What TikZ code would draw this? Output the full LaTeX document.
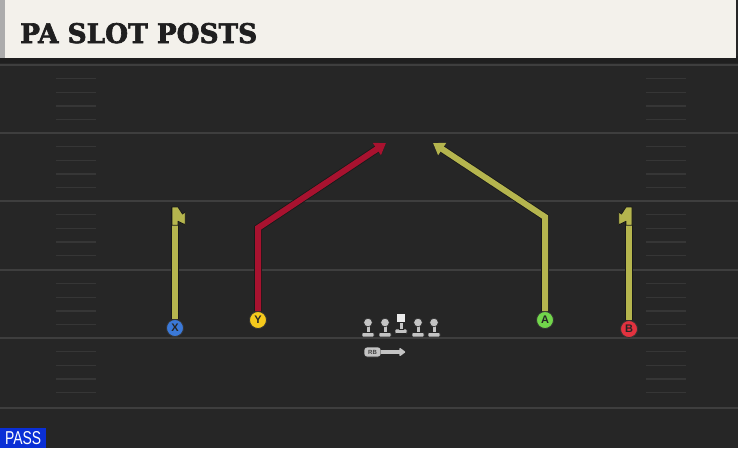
\documentclass[tikz,border=0pt]{standalone}
\usepackage{fontspec}
\newfontfamily\titlefont[BoldFont={DejaVu Serif Bold}, BoldFeatures={FakeBold=2.5}]{DejaVu Serif}
\newfontfamily\labelfont{Liberation Sans}
\usetikzlibrary{arrows.meta,positioning}
\definecolor{fieldbg}{HTML}{262626}
\definecolor{yardline}{HTML}{3E3E3E}
\definecolor{hashline}{HTML}{363636}
\definecolor{headerbg}{HTML}{F3F1EB}
\definecolor{routeolive}{HTML}{B5B54E}
\definecolor{routered}{HTML}{A8122F}
\definecolor{xblue}{HTML}{3B79D8}
\definecolor{ygold}{HTML}{F5C91C}
\definecolor{agreen}{HTML}{72D64B}
\definecolor{bred}{HTML}{E2323F}
\definecolor{piecegray}{HTML}{C4C4C4}
\definecolor{passblue}{HTML}{0A2FD6}
\begin{document}
\begin{tikzpicture}[x=1pt, y=-1pt,
    player/.style = {draw=black!80, line width=0.8pt, circle, minimum size=17pt, inner sep=0pt,
                     font=\labelfont\bfseries\fontsize{11}{11}\selectfont, text=black!85},
    route/.style = {line width=6pt, draw=#1, preaction={draw=black!90, line width=7.6pt}},
    flagtip/.style = {fill=routeolive, draw=black!90, line width=0.8pt, line join=round},
    piece/.style = {fill=piecegray, draw=black!85, line width=0.6pt},
    tip/.style = {-{Triangle[width=14pt,length=11pt]}}]
    \useasboundingbox (0,0) rectangle (738,448);

    % field
    \fill[fieldbg] (0,0) rectangle (738,448);
    \foreach \y in {65,133,201,270,338,408}
        \draw[yardline, line width=1.8pt] (0,\y) -- (738,\y);
    \foreach \y in {65,133,201,270,338}
        \foreach \k in {1,...,4} {
            \draw[hashline, line width=1.3pt] (56,\y+\k*13.7) -- (96,\y+\k*13.7);
            \draw[hashline, line width=1.3pt] (646,\y+\k*13.7) -- (686,\y+\k*13.7);
        }

    % header
    \fill[black!88] (0,56) rectangle (738,63);
    \fill[headerbg] (0,0) rectangle (736,58);
    \fill[gray!65] (0,0) rectangle (5,58);
    \node[anchor=base west, inner sep=0pt, text=black!88] (title) at (20,43)
        {\resizebox{237pt}{20pt}{\titlefont\bfseries PA SLOT POSTS}};

    % players
    \node[player, fill=xblue]  (X) at (175,328) {X};
    \node[player, fill=ygold]  (Y) at (258,320) {Y};
    \node[player, fill=agreen] (A) at (545,320) {A};
    \node[player, fill=bred]   (B) at (629,329) {B};

    \coordinate (Xtop) at (175,207);
    \coordinate (Ybend) at (258,228);
    \coordinate (Yend) at (386,143);
    \coordinate (Abend) at (545,217);
    \coordinate (Aend) at (433,143);
    \coordinate (Btop) at (629,207);

    % routes
    \draw[route=routeolive] (X.north) -- (Xtop);
    \filldraw[flagtip] (Xtop) ++(-3,0) -- ++(6,0) -- ++(4.5,7) -- ++(2.8,-2.2)
        -- ++(0,13) -- ++(-7.3,-3.5) -- ++(0,4) -- ++(-6,0) -- cycle;
    \draw[route=routeolive] (B.north) -- (Btop);
    \filldraw[flagtip] (Btop) ++(3,0) -- ++(-6,0) -- ++(-4.5,7) -- ++(-2.8,-2.2)
        -- ++(0,13) -- ++(7.3,-3.5) -- ++(0,4) -- ++(6,0) -- cycle;
    \draw[route=routered, tip] (Y.north) -- (Ybend) -- (Yend);
    \draw[route=routeolive, tip] (A.north) -- (Abend) -- (Aend);

    % formation
    \foreach \x in {368,385,418,434} {
        \filldraw[piece, rounded corners=1pt] (\x-6,332.5) rectangle (\x+6,337);
        \filldraw[piece] (\x-2.2,324) rectangle (\x+2.2,332.5);
        \filldraw[piece] (\x,322.5) circle (4.3pt);
    }
    \filldraw[piece, rounded corners=1pt] (395,329) rectangle (407,333.5);
    \filldraw[piece] (398.8,321.5) rectangle (403.2,329);
    \filldraw[fill=white!92!black, draw=black!85, line width=0.6pt] (396.5,313) rectangle (405.5,322);

    \node[piece, rounded corners=3pt, minimum width=17pt, minimum height=10pt, inner sep=0pt,
          font=\labelfont\bfseries\fontsize{6}{6}\selectfont, text=black!75] (RB) at (372.5,352) {RB};
    \coordinate (RBend) at (406,352);
    \draw[draw=black!85, line width=5.5pt, -{Triangle[round,width=11pt,length=8pt]}] (RB.east) -- (RBend);
    \draw[draw=piecegray, fill=piecegray, line width=4pt, -{Triangle[round,width=9pt,length=6.5pt]}] (RB.east) -- ([xshift=-0.8pt]RBend);

    % play type
    \node[fill=passblue, anchor=south west, minimum width=46pt, minimum height=20pt, inner sep=0pt,
          text=white] (pass) at (0,448) {\resizebox{36pt}{13pt}{\labelfont PASS}};
\end{tikzpicture}
\end{document}
